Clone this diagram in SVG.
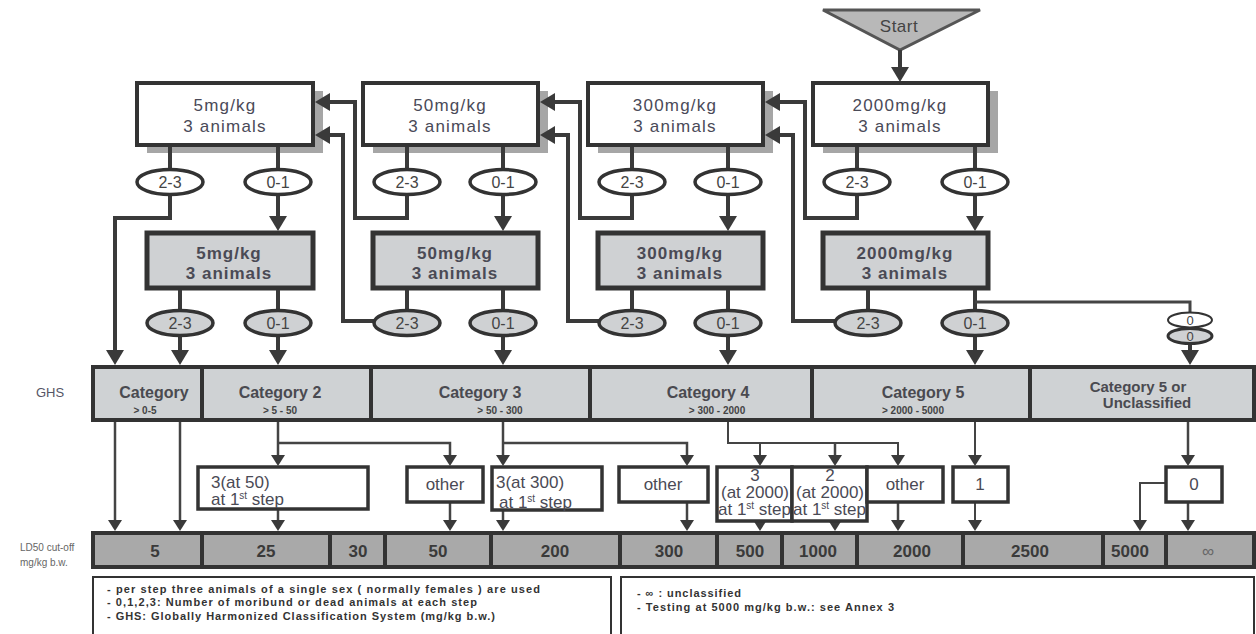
<svg xmlns="http://www.w3.org/2000/svg" width="1256" height="634" viewBox="0 0 1256 634">
<defs>
<style>
.bx{fill:#fff;stroke:#333;stroke-width:4}
.sh{fill:#a6a6a6}
.bx2{fill:#cfd1d3;stroke:#333;stroke-width:5}
.ov{fill:#fff;stroke:#333;stroke-width:3.5}
.ov2{fill:#cfd1d3;stroke:#333;stroke-width:3.5}
.ob{fill:#fff;stroke:#333;stroke-width:3.5}
.ghs{fill:#cfd2d4;stroke:#333;stroke-width:4}
.ld{fill:#a9a9a9;stroke:#333;stroke-width:4}
.lg{fill:#fff;stroke:#333;stroke-width:2}
.f{font-family:"Liberation Sans",Arial,sans-serif}
.t1{font-size:17px;fill:#4a4a58;text-anchor:middle;letter-spacing:1.2px}
.t2{font-size:17px;font-weight:bold;fill:#4a4a55;text-anchor:middle;letter-spacing:1px}
.to{font-size:16px;fill:#444;text-anchor:middle}
.tc{font-size:16px;font-weight:bold;fill:#4a4a50;text-anchor:middle}
.ts{font-size:10px;font-weight:bold;fill:#444;text-anchor:middle}
.tn{font-size:17px;font-weight:bold;fill:#3a3a3a;text-anchor:middle}
.tb{font-size:17px;fill:#4a4a55}
.tbm{font-size:17px;fill:#4a4a55;text-anchor:middle}
.tl{font-size:11px;font-weight:bold;fill:#333}
.c{fill:none;stroke:#3a3a3a;stroke-width:4}
.cl{fill:none;stroke:#444;stroke-width:2.5}
.ah{marker-end:url(#ah)}
.as{marker-end:url(#as)}
</style>
<marker id="ah" markerUnits="userSpaceOnUse" viewBox="0 0 15 18" markerWidth="15" markerHeight="18" refX="1" refY="9" orient="auto">
<path d="M0,0 L15,9 L0,18 z" fill="#3a3a3a"/>
</marker>
<marker id="as" markerUnits="userSpaceOnUse" viewBox="0 0 11 14" markerWidth="11" markerHeight="14" refX="1" refY="7" orient="auto">
<path d="M0,0 L11,7 L0,14 z" fill="#3a3a3a"/>
</marker>
</defs>

<g id="labels" class="f">
<text x="36" y="397" style="font-size:13px;fill:#556">GHS</text>
<text x="20" y="551" style="font-size:10px;fill:#666">LD50  cut-off</text>
<text x="20" y="566" style="font-size:10px;fill:#666">mg/kg b.w.</text>
</g>

<g id="start" class="f">
<polygon points="823,10 980,10 900,50" fill="#b8b8b8" stroke="#555" stroke-width="3"/>
<text x="899" y="32" style="font-size:17px;fill:#444;text-anchor:middle;letter-spacing:0.5px">Start</text>
</g>

<g id="dose5a" class="f"><rect class="sh" x="147" y="91" width="176" height="62"/><rect class="bx" x="137" y="83" width="176" height="62"/><text class="t1" x="225" y="111">5mg/kg</text><text class="t1" x="225" y="132">3 animals</text></g>
<g id="dose50a" class="f"><rect class="sh" x="373" y="91" width="175" height="62"/><rect class="bx" x="363" y="83" width="175" height="62"/><text class="t1" x="450" y="111">50mg/kg</text><text class="t1" x="450" y="132">3 animals</text></g>
<g id="dose300a" class="f"><rect class="sh" x="598" y="91" width="175" height="62"/><rect class="bx" x="588" y="83" width="175" height="62"/><text class="t1" x="675" y="111">300mg/kg</text><text class="t1" x="675" y="132">3 animals</text></g>
<g id="dose2000a" class="f"><rect class="sh" x="823" y="91" width="175" height="62"/><rect class="bx" x="813" y="83" width="175" height="62"/><text class="t1" x="900" y="111">2000mg/kg</text><text class="t1" x="900" y="132">3 animals</text></g>

<g id="dose5b" class="f"><rect class="bx2" x="147" y="233" width="166" height="55"/><text class="t2" x="229" y="259">5mg/kg</text><text class="t2" x="229" y="279">3 animals</text></g>
<g id="dose50b" class="f"><rect class="bx2" x="373" y="233" width="165" height="55"/><text class="t2" x="455" y="259">50mg/kg</text><text class="t2" x="455" y="279">3 animals</text></g>
<g id="dose300b" class="f"><rect class="bx2" x="598" y="233" width="165" height="55"/><text class="t2" x="680" y="259">300mg/kg</text><text class="t2" x="680" y="279">3 animals</text></g>
<g id="dose2000b" class="f"><rect class="bx2" x="823" y="233" width="165" height="55"/><text class="t2" x="905" y="259">2000mg/kg</text><text class="t2" x="905" y="279">3 animals</text></g>

<g id="connectors">
<path class="c ah" d="M900,50 V68"/>
<path class="c" d="M278,147 V170 M503,147 V170 M728,147 V170 M975,147 V170"/>
<path class="c ah" d="M278,194 V217"/>
<path class="c ah" d="M503,194 V217"/>
<path class="c ah" d="M728,194 V217"/>
<path class="c ah" d="M975,194 V217"/>
<path class="c ah" d="M170,147 V218 H115 V351"/>
<path class="c ah" d="M407,147 V218 H355 V102 H329"/>
<path class="c ah" d="M632,147 V218 H580 V102 H554"/>
<path class="c ah" d="M857,147 V218 H805 V102 H779"/>
<path class="c" d="M180,290 V311 M278,290 V311 M407,290 V311 M503,290 V311 M632,290 V311 M728,290 V311 M868,290 V311 M975,290 V311"/>
<path class="c ah" d="M180,335 V351"/>
<path class="c ah" d="M278,335 V351"/>
<path class="c ah" d="M503,335 V351"/>
<path class="c ah" d="M728,335 V351"/>
<path class="c ah" d="M975,335 V351"/>
<path class="c ah" d="M375,321 H343 V135 H329"/>
<path class="c ah" d="M600,321 H568 V135 H554"/>
<path class="c ah" d="M836,321 H793 V135 H779"/>
<path class="cl" d="M975,302 H1190 V313" style="stroke-width:3"/>
<path class="c ah" d="M1190,343 V351"/>

<path class="cl as" d="M115,422 V521"/>
<path class="cl as" d="M180,422 V521"/>
<path class="cl as" d="M278,422 V456"/>
<path class="cl as" d="M278,443 H450 V456"/>
<path class="cl as" d="M278,510 V521"/>
<path class="cl as" d="M450,503 V521"/>
<path class="cl as" d="M503,422 V456"/>
<path class="cl as" d="M503,443 H687 V456"/>
<path class="cl as" d="M503,511 V521"/>
<path class="cl as" d="M687,503 V521"/>
<path class="cl as" d="M728,422 V443 H898 V456" style="stroke-width:2"/>
<path class="cl as" d="M760,443 V456" style="stroke-width:2"/>
<path class="cl as" d="M835,443 V456"/>
<path class="cl as" d="M760,519 V521"/>
<path class="cl as" d="M835,519 V521"/>
<path class="cl as" d="M898,503 V521"/>
<path class="cl as" d="M975,422 V456" style="stroke-width:2"/>
<path class="cl as" d="M975,503 V521" style="stroke-width:2"/>
<path class="cl as" d="M1188,422 V456"/>
<path class="cl as" d="M1188,503 V521"/>
<path class="cl as" d="M1165,483 H1140 V521" style="stroke-width:2"/>
</g>

<g id="ovals-top" class="f">
<g id="o5a23"><ellipse class="ov" cx="170" cy="182" rx="33" ry="12.5"/><text class="to" x="170" y="188">2-3</text></g>
<g id="o5a01"><ellipse class="ov" cx="278" cy="182" rx="33" ry="12.5"/><text class="to" x="278" y="188">0-1</text></g>
<g id="o50a23"><ellipse class="ov" cx="407" cy="182" rx="33" ry="12.5"/><text class="to" x="407" y="188">2-3</text></g>
<g id="o50a01"><ellipse class="ov" cx="503" cy="182" rx="33" ry="12.5"/><text class="to" x="503" y="188">0-1</text></g>
<g id="o300a23"><ellipse class="ov" cx="632" cy="182" rx="33" ry="12.5"/><text class="to" x="632" y="188">2-3</text></g>
<g id="o300a01"><ellipse class="ov" cx="728" cy="182" rx="33" ry="12.5"/><text class="to" x="728" y="188">0-1</text></g>
<g id="o2000a23"><ellipse class="ov" cx="857" cy="182" rx="33" ry="12.5"/><text class="to" x="857" y="188">2-3</text></g>
<g id="o2000a01"><ellipse class="ov" cx="975" cy="182" rx="33" ry="12.5"/><text class="to" x="975" y="188">0-1</text></g>
</g>

<g id="ovals-second" class="f">
<g id="o5b23"><ellipse class="ov2" cx="180" cy="323" rx="33" ry="12.5"/><text class="to" x="180" y="329">2-3</text></g>
<g id="o5b01"><ellipse class="ov2" cx="278" cy="323" rx="33" ry="12.5"/><text class="to" x="278" y="329">0-1</text></g>
<g id="o50b23"><ellipse class="ov2" cx="407" cy="323" rx="33" ry="12.5"/><text class="to" x="407" y="329">2-3</text></g>
<g id="o50b01"><ellipse class="ov2" cx="503" cy="323" rx="33" ry="12.5"/><text class="to" x="503" y="329">0-1</text></g>
<g id="o300b23"><ellipse class="ov2" cx="632" cy="323" rx="33" ry="12.5"/><text class="to" x="632" y="329">2-3</text></g>
<g id="o300b01"><ellipse class="ov2" cx="728" cy="323" rx="33" ry="12.5"/><text class="to" x="728" y="329">0-1</text></g>
<g id="o2000b23"><ellipse class="ov2" cx="868" cy="323" rx="33" ry="12.5"/><text class="to" x="868" y="329">2-3</text></g>
<g id="o2000b01"><ellipse class="ov2" cx="975" cy="323" rx="33" ry="12.5"/><text class="to" x="975" y="329">0-1</text></g>
<g id="o0w"><ellipse class="ov" cx="1190" cy="320" rx="22" ry="7.5" style="stroke-width:2"/><text x="1190" y="325" class="to" style="font-size:13px">0</text></g>
<g id="o0g"><ellipse class="ov2" cx="1190" cy="336" rx="22" ry="7.5" style="stroke-width:3"/><text x="1190" y="341" class="to" style="font-size:13px">0</text></g>
</g>

<g id="ghs" class="f">
<g id="cat1"><rect class="ghs" x="93" y="367" width="109" height="53"/><text class="tc" x="154" y="398">Category</text><text class="ts" x="145" y="414">&gt;  0-5</text></g>
<g id="cat2"><rect class="ghs" x="202" y="367" width="169" height="53"/><text class="tc" x="280" y="398">Category 2</text><text class="ts" x="280" y="414">&gt; 5 - 50</text></g>
<g id="cat3"><rect class="ghs" x="371" y="367" width="219" height="53"/><text class="tc" x="480" y="398">Category 3</text><text class="ts" x="500" y="414">&gt; 50 - 300</text></g>
<g id="cat4"><rect class="ghs" x="590" y="367" width="222" height="53"/><text class="tc" x="708" y="398">Category 4</text><text class="ts" x="717" y="414">&gt; 300 - 2000</text></g>
<g id="cat5"><rect class="ghs" x="812" y="367" width="218" height="53"/><text class="tc" x="923" y="398">Category 5</text><text class="ts" x="913" y="414">&gt; 2000 - 5000</text></g>
<g id="cat5u"><rect class="ghs" x="1030" y="367" width="224" height="53"/><text class="tc" x="1138" y="392" style="font-size:15px">Category 5 or</text><text class="tc" x="1147" y="408" style="font-size:15px">Unclassified</text></g>
</g>

<g id="outcomes" class="f">
<g id="r3at50"><rect class="ob" x="198" y="467" width="170" height="42"/><text class="tb" x="211" y="488">3(at 50)</text><text class="tb" x="211" y="505">at 1<tspan dy="-6" font-size="10">st</tspan><tspan dy="6"> step</tspan></text></g>
<g id="other1"><rect class="ob" x="407" y="467" width="76" height="35"/><text class="tbm" x="445" y="490">other</text></g>
<g id="r3at300"><rect class="ob" x="492" y="467" width="110" height="43"/><text class="tb" x="496" y="488">3(at 300)</text><text class="tb" x="499" y="508">at 1<tspan dy="-6" font-size="10">st</tspan><tspan dy="6"> step</tspan></text></g>
<g id="other2"><rect class="ob" x="619" y="467" width="89" height="35"/><text class="tbm" x="663" y="490">other</text></g>
<g id="r3at2000"><rect class="ob" x="717" y="467" width="75" height="54"/><text class="tbm" x="755" y="481">3</text><text class="tbm" x="755" y="498">(at 2000)</text><text class="tb" x="718" y="515">at 1<tspan dy="-6" font-size="10">st</tspan><tspan dy="6"> step</tspan></text></g>
<g id="r2at2000"><rect class="ob" x="792" y="467" width="75" height="54"/><text class="tbm" x="830" y="481">2</text><text class="tbm" x="830" y="498">(at 2000)</text><text class="tb" x="793" y="515">at 1<tspan dy="-6" font-size="10">st</tspan><tspan dy="6"> step</tspan></text></g>
<g id="other3"><rect class="ob" x="867" y="467" width="76" height="35"/><text class="tbm" x="905" y="490">other</text></g>
<g id="r1"><rect class="ob" x="953" y="467" width="55" height="35"/><text class="tbm" x="980" y="490">1</text></g>
<g id="r0"><rect class="ob" x="1166" y="467" width="56" height="35"/><text class="tbm" x="1194" y="490">0</text></g>
</g>

<g id="ld50" class="f">
<rect class="ld" x="93" y="533" width="109" height="34"/><text class="tn" x="155" y="557">5</text>
<rect class="ld" x="202" y="533" width="128" height="34"/><text class="tn" x="266" y="557">25</text>
<rect class="ld" x="330" y="533" width="55" height="34"/><text class="tn" x="358" y="557">30</text>
<rect class="ld" x="385" y="533" width="106" height="34"/><text class="tn" x="438" y="557">50</text>
<rect class="ld" x="491" y="533" width="129" height="34"/><text class="tn" x="555" y="557">200</text>
<rect class="ld" x="620" y="533" width="97" height="34"/><text class="tn" x="669" y="557">300</text>
<rect class="ld" x="717" y="533" width="65" height="34"/><text class="tn" x="750" y="557">500</text>
<rect class="ld" x="782" y="533" width="75" height="34"/><text class="tn" x="818" y="557">1000</text>
<rect class="ld" x="857" y="533" width="106" height="34"/><text class="tn" x="912" y="557">2000</text>
<rect class="ld" x="963" y="533" width="140" height="34"/><text class="tn" x="1030" y="557">2500</text>
<rect class="ld" x="1103" y="533" width="63" height="34"/><text class="tn" x="1130" y="557">5000</text>
<rect class="ld" x="1166" y="533" width="88" height="34"/><text class="tn" x="1208" y="557" style="font-weight:normal;fill:#666">∞</text>
</g>

<g id="legend" class="f">
<rect class="lg" x="93" y="577" width="518" height="58"/>
<text class="tl" x="107" y="593" textLength="433" lengthAdjust="spacing">- per  step three animals  of a single  sex (  normally  females   )  are used</text>
<text class="tl" x="107" y="606" textLength="370" lengthAdjust="spacing">- 0,1,2,3:   Number of moribund  or dead animals   at   each step</text>
<text class="tl" x="107" y="620" textLength="388" lengthAdjust="spacing">- GHS:   Globally Harmonized Classification  System (mg/kg b.w.)</text>
<rect class="lg" x="621" y="577" width="633" height="58"/>
<text class="tl" x="637" y="597" textLength="104" lengthAdjust="spacing">- ∞ :  unclassified</text>
<text class="tl" x="637" y="611" textLength="257" lengthAdjust="spacing">- Testing   at 5000 mg/kg b.w.:  see Annex 3</text>
</g>
</svg>
